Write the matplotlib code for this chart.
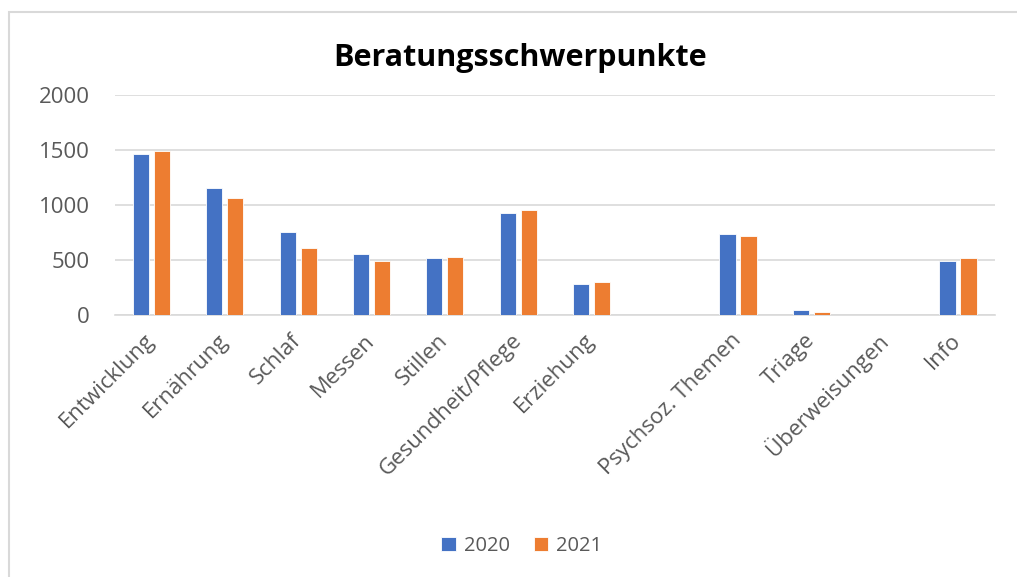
import matplotlib as mpl
mpl.use('Agg')
import matplotlib.pyplot as plot
import matplotlib.patches as patches
import numpy as np

CATEGORIES = ["Entwicklung", "Ernährung", "Schlaf", "Messen", "Stillen", "Gesundheit/Pflege",
              "Erziehung", "", "Psychsoz. Themen", "Triage", "Überweisungen", "Info"]
VALUES_2020 = [1463, 1156, 751, 559, 517, 930, 286, 0, 739, 43, 0, 490]
VALUES_2021 = [1496, 1067, 608, 493, 526, 955, 301, 0, 715, 24, 0, 520]
SERIES = ["2020", "2021"]
Y_TICKS = [0, 500, 1000, 1500, 2000]

COLORS = ['#4472C4', '#ED7D31']
GRID_COLOR = '#d9d9d9'
TEXT_COLOR = '#595959'

BAR_WIDTH = 0.22
OFFSET = 0.143

plot.rcParams['font.family'] = ['Open Sans', 'DejaVu Sans']

fig = plot.figure(figsize=(10.17, 5.77), dpi=100)
ax = fig.add_axes([0.113, 0.454, 0.865, 0.381])

x = np.arange(len(CATEGORIES))
ax.bar(x - OFFSET, VALUES_2020, BAR_WIDTH, color=COLORS[0], edgecolor='white', linewidth=0.6, label=SERIES[0], zorder=3)
ax.bar(x + OFFSET, VALUES_2021, BAR_WIDTH, color=COLORS[1], edgecolor='white', linewidth=0.6, label=SERIES[1], zorder=3)

ax.set_xlim(-0.5, len(CATEGORIES) - 0.5)
ax.set_ylim(0, 2000)
ax.set_yticks(Y_TICKS)
ax.yaxis.grid(True, color=GRID_COLOR, linewidth=1.2, zorder=0)
ax.set_axisbelow(True)

for side in ['top', 'right', 'left']:
    ax.spines[side].set_visible(False)
ax.spines['bottom'].set_color(GRID_COLOR)
ax.spines['bottom'].set_linewidth(1.2)

ax.set_xticks(x)
ax.set_xticklabels(CATEGORIES, rotation=45, ha='right', va='center', rotation_mode='anchor',
                   fontsize=16, color=TEXT_COLOR)
ax.tick_params(axis='x', length=0, pad=16)
ax.tick_params(axis='y', length=0, pad=18, labelsize=16, labelcolor=TEXT_COLOR)

fig.text(0.511, 0.899, "Beratungsschwerpunkte", ha='center', va='center',
         fontsize=22, fontweight='bold', color='black')

fig.legend(loc='lower center', bbox_to_anchor=(0.513, 0.005), ncol=2, frameon=False,
           fontsize=14.5, handlelength=0.7, handleheight=0.7, handletextpad=0.4,
           columnspacing=1.2, labelcolor=TEXT_COLOR)

border = patches.Rectangle((9 / 1017, -0.05), 1.2, 1 - 12 / 577 + 0.05, transform=fig.transFigure,
                           fill=False, edgecolor=GRID_COLOR, linewidth=1.5)
fig.patches.append(border)

plot.savefig('out.png', dpi=100)
